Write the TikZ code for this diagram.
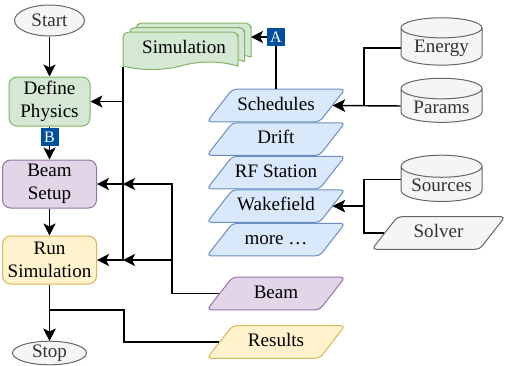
\documentclass[tikz,border=0pt]{standalone}
\usepackage{fontspec}
\setmainfont{Liberation Serif}
\usetikzlibrary{arrows.meta,positioning,shapes.geometric}
\definecolor{verdef}{RGB}{213,232,212}
\definecolor{verdel}{RGB}{130,179,102}
\definecolor{lilaf}{RGB}{225,213,231}
\definecolor{lilal}{RGB}{150,115,166}
\definecolor{amarf}{RGB}{255,242,204}
\definecolor{amarl}{RGB}{214,182,86}
\definecolor{azulf}{RGB}{218,232,252}
\definecolor{azull}{RGB}{108,142,191}
\definecolor{grisc}{RGB}{245,245,245}
\definecolor{grisl}{RGB}{102,102,102}
\definecolor{grist}{RGB}{51,51,51}
\definecolor{azulm}{RGB}{0,80,158}
\tikzset{
  term/.style={draw=grisl, fill=grisc, ellipse, text=grist, inner sep=0pt, line width=0.75pt},
  paso/.style={rounded corners=6pt, align=center, minimum width=70.5pt, minimum height=36pt, inner sep=1pt, line width=0.75pt},
  capa/.style={trapezium, trapezium left angle=52, trapezium right angle=128, trapezium stretches body, rounded corners=3pt,
    text height=10pt, text depth=3pt, inner ysep=5.7pt, inner xsep=1pt, minimum width=103.5pt, line width=0.75pt},
  bloque/.style={capa, draw=azull, fill=azulf},
  cil/.style={cylinder, shape border rotate=90, aspect=0.35, draw=grisl, fill=grisc, text=grist, inner sep=1pt,
    minimum width=60.75pt, minimum height=28pt, line width=0.75pt},
  hoja/.style={draw=verdel, fill=verdef, line width=0.75pt},
  fl/.style={-{Stealth[length=9pt, width=9pt, inset=2.2pt]}, line width=1.1pt},
  marca/.style={fill=azulm, text=white, inner sep=0pt, minimum size=13.5pt, font=\fontsize{12}{12}\selectfont},
}
\begin{document}
\begin{tikzpicture}[x=0.75pt, y=-0.75pt, font=\fontsize{14.3}{17}\selectfont]
\useasboundingbox (0,0) rectangle (505,365);

% left column
\node[term, minimum width=52.5pt, minimum height=23.25pt] (start) at (49.5,20.5) {Start};
\node[paso, draw=verdel, fill=verdef, minimum width=60.75pt, minimum height=36.75pt] (def) at (49.5,101.5) {Define\\Physics};
\node[paso, draw=lilal, fill=lilaf] (prep) at (49.5,184) {Beam\\Setup};
\node[paso, draw=amarl, fill=amarf] (run) at (49.5,260) {Run\\Simulation};
\node[term, minimum width=55.5pt, minimum height=16.5pt] (stop) at (49.5,353) {Stop};

% simulation stack
\foreach \d in {2,1,0}
  \draw[hoja, shift={(6.5*\d,-4.5*\d)}] (123,66) [rounded corners=4pt] -- (123,32) -- (238,32) -- (238,40) [sharp corners] -- (238,66)
    .. controls (218.7,60.7) and (199.5,60.7) .. (180.5,66) .. controls (161.5,70.7) and (142,70.7) .. (123,66) -- cycle;
\node (sim) at (184,47) {Simulation};
\coordinate (simpie) at (123,67);
\coordinate (simder) at (251,37);
\coordinate (nudoB) at (simpie |- prep);
\coordinate (nudoR) at (simpie |- run);
\coordinate (troncoB) at (172,0);
\coordinate (troncoD) at (364,0);

% elements
\node[bloque] (sched) at (276,105.5) {Schedules};
\node[bloque, below=0pt of sched] (drift) {Drift};
\node[bloque, below=0pt of drift] (rf) {RF Station};
\node[bloque, below=0pt of rf] (wake) {Wakefield};
\node[bloque, below=0pt of wake] (more) {more \dots};

\node[capa, draw=lilal, fill=lilaf] (beam) at (276,293.5) {Beam};
\node[capa, draw=amarl, fill=amarf] (res) at (276,342) {Results};

% inputs
\node[cil] (energy) at (441.5,48) {Energy};
\node[cil] (params) at (441.5,107) {Params};
\node[cil] (sources) at (441.5,185.5) {Sources};
\node[capa, draw=grisl, fill=grisc, text=grist, minimum width=99.75pt] (solver) at (438.5,233) {Solver};

% connectors
\draw[fl] (start) -- (def);
\draw[fl] (def) -- node[marca, pos=.32]{B} (prep);
\draw[fl] (prep) -- (run);
\draw[fl] (run) -- (stop);
\draw[fl] (res.west) -| (124,310) -| (stop);
\draw[fl] (simpie) |- (def);
\draw[fl] (simpie) |- (prep);
\draw[fl] (simpie) |- (run);
\draw[fl] (beam.west) -- (beam.west -| troncoB) |- (nudoB);
\draw[fl] (beam.west) -- (beam.west -| troncoB) |- (nudoR);
\draw[fl] (sched.north) |- node[marca]{A} (simder);
\draw[fl] (energy.west) -- (energy.west -| troncoD) |- (sched.east);
\draw[fl] ([yshift=0.75pt]params.west) -- (sched.east);
\draw[fl] ([yshift=4.5pt]sources.west) -- ([yshift=4.5pt]sources.west -| troncoD) |- (wake.east);
\draw[fl] (solver.west) -- (solver.west -| troncoD) |- (wake.east);
\end{tikzpicture}
\end{document}
